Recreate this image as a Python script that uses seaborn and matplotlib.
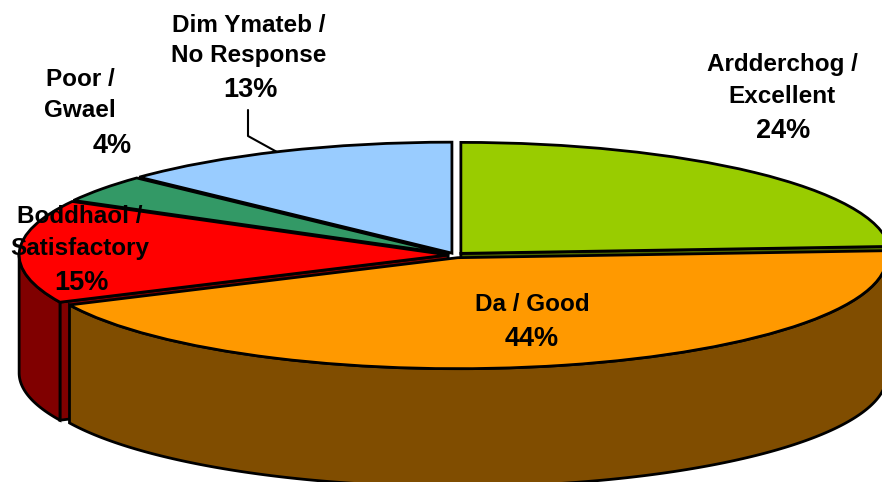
import numpy as np
import matplotlib
matplotlib.use('Agg')
import matplotlib.pyplot as plt
import seaborn as sns

# survey answers, clockwise from 12 o'clock
names = ['Ardderchog /\nExcellent', 'Da / Good', 'Boddhaol /\nSatisfactory', 'Poor /\nGwael', 'Dim Ymateb /\nNo Response']
values = [24, 44, 15, 4, 13]
colours = ['#99CC00', '#FF9900', '#FF0000', '#339966', '#99CCFF']
explode = [0.02, 0.025, 0.016, 0.016, 0.018]

# layout in pixels of the 882x482 picture
W, H = 882, 482
cx, cy = 455, 255      # centre of the pie
rx, ry = 429, 111      # radii of the squashed top
depth = 118 / ry       # height of the wall, in pie units

# baseline positions of the label lines (x centre, y baseline), name lines then percent
name_pos = [[(782, 71), (782, 103)], [(532, 311)], [(80, 223), (80, 255)], [(80, 86), (80, 117)], [(249, 32), (249, 62)]]
pct_pos = [(783, 138), (532, 346), (81, 290), (112, 153), (250, 97)]
leader = [(248, 110), (248, 136), (277, 152)]

sns.set_theme(style='white')
plt.rcParams['font.family'] = ['Liberation Sans', 'DejaVu Sans']


def px(x, y):
    # picture pixels to pie units
    return (x - cx) / rx, (cy - y) / ry


def darker(c):
    return tuple(v * 0.5 for v in matplotlib.colors.to_rgb(c))


fig, ax = plt.subplots(figsize=(W / 100, H / 100), dpi=100)
fig.subplots_adjust(left=0, right=1, top=1, bottom=0)

wedges, _ = ax.pie(values, colors=sns.color_palette(colours), explode=explode, startangle=90,
                   counterclock=False, radius=1, wedgeprops={'edgecolor': 'black', 'linewidth': 2})
ax.set_aspect('auto')
ax.set_xlim(px(0, 0)[0], px(W, 0)[0])
ax.set_ylim(px(0, H)[1], px(0, 0)[1])

# flat cut faces that show in the gaps next to the good slice
for i, angle in [(0, wedges[0].theta1), (2, wedges[2].theta2)]:
    x0, y0 = wedges[i].center
    t = np.radians(angle)
    ex, ey = x0 + np.cos(t), y0 + np.sin(t)
    ax.fill([x0, ex, ex, x0], [y0, ey, ey - depth, y0 - depth], facecolor=darker(colours[i]),
            edgecolor='black', lw=2, zorder=1)

# round wall, only the part facing the viewer (180-360 degrees)
for i, lo, hi, z in [(2, 180, wedges[2].theta2 % 360, 2), (1, wedges[1].theta1 % 360, 360, 3)]:
    x0, y0 = wedges[i].center
    a = np.radians(np.linspace(lo, hi, 200))
    xs = x0 + np.cos(a)
    ys = y0 + np.sin(a)
    ax.fill(np.r_[xs, xs[::-1]], np.r_[ys, ys[::-1] - depth], facecolor=darker(colours[i]),
            edgecolor='black', lw=2, zorder=z)

# tops go over all the walls
for w in wedges:
    w.set_zorder(8)

for i, n in enumerate(names):
    for line, (x, y) in zip(n.split('\n'), name_pos[i]):
        ax.text(*px(x, y), line, ha='center', va='baseline', fontsize=17.5, fontweight='bold', color='black', zorder=10)
    x, y = pct_pos[i]
    ax.text(*px(x, y), '%d%%' % values[i], ha='center', va='baseline', fontsize=19.5, fontweight='bold', color='black', zorder=10)

lx, ly = zip(*[px(x, y) for x, y in leader])
ax.plot(lx, ly, color='black', lw=1.5, zorder=9)

fig.savefig('out.png', dpi=100)
